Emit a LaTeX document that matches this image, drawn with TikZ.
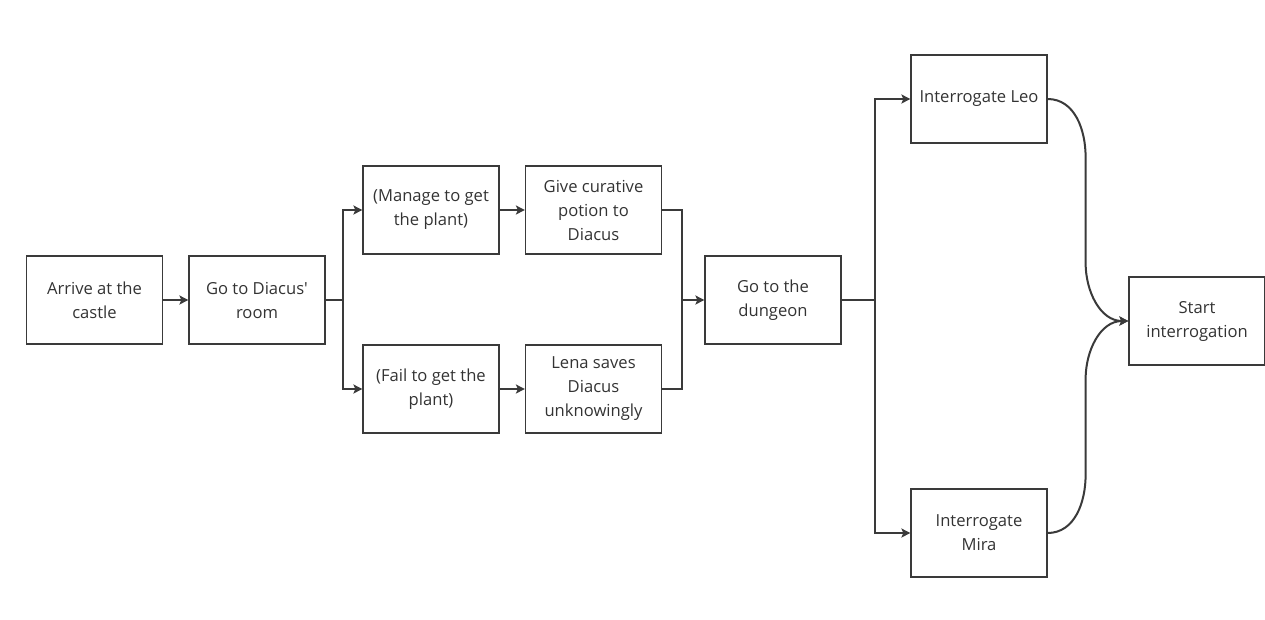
\documentclass[tikz,border=0pt]{standalone}
\usepackage{fontspec}
\setmainfont{Open Sans}
\usetikzlibrary{arrows.meta}

\definecolor{inkgray}{HTML}{3A3A3A}
\definecolor{textgray}{HTML}{333333}

\tikzset{
    stage/.style={draw=inkgray, line width=1.2pt, minimum width=136pt, minimum height=88pt,
        inner sep=0pt, align=center, text=textgray, font=\fontsize{16.6}{24}\selectfont},
    link/.style={draw=inkgray, line width=2pt},
    flow/.style={link, -{Stealth[length=9pt,width=9pt,inset=2pt]}},
}

\begin{document}
\begin{tikzpicture}[x=1pt, y=-1pt]
    \useasboundingbox (0,0) rectangle (1265,619);

    % Nodes (Steps)
    \node[stage] (arrive) at (94.5,300) {Arrive at the\\castle};
    \node[stage] (room) at (257,300) {Go to Diacus\textquotesingle\\room};
    \node[stage] (manage) at (431,210) {(Manage to get\\the plant)};
    \node[stage] (potion) at (593.5,210) {Give curative\\potion to\\Diacus};
    \node[stage] (fail) at (431,389) {(Fail to get the\\plant)};
    \node[stage] (lena) at (593.5,389) {Lena saves\\Diacus\\unknowingly};
    \node[stage] (dungeon) at (773,300) {Go to the\\dungeon};
    \node[stage] (leo) at (979,99) {Interrogate Leo};
    \node[stage] (mira) at (979,533) {Interrogate\\Mira};
    \node[stage] (start) at (1197,321) {Start\\interrogation};

    % Junctions
    \coordinate (split1) at (343,300);
    \coordinate (join1) at (682,300);
    \coordinate (split2) at (875,300);

    % Edges
    \draw[flow] (arrive) -- (room);

    % room -> manage / fail
    \draw[link] (room) -- (split1);
    \draw[flow] (split1) |- (manage);
    \draw[flow] (split1) |- (fail);

    \draw[flow] (manage) -- (potion);
    \draw[flow] (fail) -- (lena);

    % both ways -> dungeon
    \draw[link] (potion) -| (join1);
    \draw[link] (lena) -| (join1);
    \draw[flow] (join1) -- (dungeon);

    % dungeon -> leo / mira
    \draw[link] (dungeon) -- (split2);
    \draw[flow] (split2) |- (leo);
    \draw[flow] (split2) |- (mira);

    % leo, mira -> start
    \draw[flow] (leo.east) to[out=0, in=90] ++(38,58) -- ++(0,106)
        to[out=-90, in=180] (start.west);
    \draw[flow] (mira.east) to[out=0, in=-90] ++(38,-58) -- ++(0,-96)
        to[out=90, in=180] (start.west);
\end{tikzpicture}
\end{document}
